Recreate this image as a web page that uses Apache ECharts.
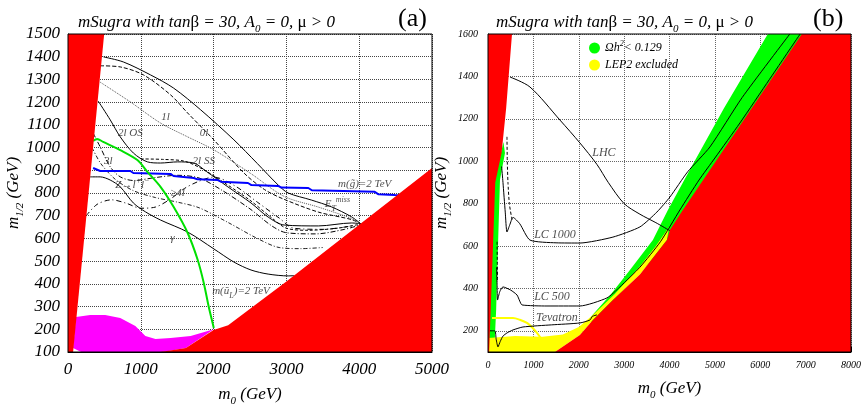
<!DOCTYPE html>
<html><head><meta charset="utf-8">
<script src="https://cdn.jsdelivr.net/npm/echarts@6/dist/echarts.min.js"></script>
<style>html,body{margin:0;padding:0;background:#fff}#c{width:863px;height:410px}</style>
</head><body><div id="c"></div>
<script>
// ---------- Panel (a) data ----------
const aRedLeft = [[0,100],[70,100],[497,1500],[0,1500]];
const aRedRight = [[1270,100],[1620,118],[2000,197],[2200,218],[3000,410],[4000,660],[5000,910],[5000,100]];
const aMagenta = [[69,118],[110,254],[304,263],[511,263],[718,250],[925,214],[1063,170],[1202,157],[1409,162],[1685,170],[2003,200],[1620,118],[1300,100],[180,100]];
const aSquark = [[345,1029],[400,1038],[483,1025],[718,989],[953,945],[1091,893],[1271,827],[1450,739],[1644,624],[1782,505],[1865,404],[1934,298],[2003,206]];
const aGluino = [[345,910],[442,897],[856,897],[898,888],[1409,884],[1450,875],[1727,866],[1780,860],[2058,857],[2100,850],[2472,844],[2520,835],[2887,831],[2930,824],[3301,822],[3350,812],[4213,805],[4260,795],[4489,791],[4600,790]];
const aEtmiss = [[488,1399],[760,1377],[1133,1320],[1450,1262],[1823,1166],[2279,1034],[2600,930],[2887,835],[3025,800],[3343,769],[3619,739],[3895,695],[4020,665]];
const a0l = [[442,1360],[718,1355],[1036,1320],[1409,1232],[1644,1152],[2003,1034],[2417,888],[2700,815],[2970,772],[3439,716],[3895,683],[4020,665]];
const a1l = [[442,1288],[856,1201],[1271,1108],[1644,1047],[2003,990],[2514,885],[2970,785],[3439,738],[3895,688],[4020,665]];
const a2lOS = [[414,1205],[580,1122],[718,1047],[898,976],[1091,937],[1271,932],[1506,937],[1727,932],[1900,895],[2196,827],[2514,756],[2749,694],[2970,659],[3439,655],[3895,668],[4020,665]];
const a2lSS = [[1000,950],[1300,948],[1600,940],[1850,905],[2100,855],[2500,768],[2800,690],[3000,645],[3300,636],[3700,645],[4000,662]];
const a3l = [[345,1064],[442,1003],[580,915],[718,871],[900,855],[1200,868],[1500,878],[1800,866],[2100,815],[2500,730],[2800,655],[3000,625],[3400,620],[3800,640],[4000,658]];
const aZll = [[330,1000],[450,930],[650,860],[900,810],[1200,780],[1500,760],[1800,735],[2200,670],[2600,600],[2900,560],[3200,555],[3500,560]];
const a4l = [[250,700],[400,750],[600,770],[800,755],[1000,733],[1200,738],[1400,772],[1600,820],[1800,852],[2000,870],[2300,830],[2600,760],[2900,690],[3100,645],[3500,640],[3900,655]];
const aGamma = [[304,871],[442,871],[580,857],[718,827],[898,756],[1064,717],[1271,681],[1644,628],[2003,554],[2279,496],[2514,461],[2749,443],[3025,435],[3110,436]];
const aLabels = [
  [1340,1135,'1l'],[1870,1065,'0l'],[856,1064,'2l OS'],[552,940,'3l'],[1865,940,'2l SS'],
  [884,835,'Z→l{p|+}l{p|−}'],[1505,800,'≥4l'],[4075,838,'m(g\u0303)=2 TeV'],[3700,752,'E{b|T}{p|miss}'],
  [1436,602,'γ'],[2376,369,'m(ũ{b|L})=2 TeV']
];

// ---------- Panel (b) data ----------
const bYTicks = [200,400,600,800,1000,1200,1400,1600];
const bRedLeft = [[0,100],[25,100],[60,300],[110,600],[160,900],[300,1040],[400,1250],[529,1600],[0,1600]];
const bRedRight = [[1476,100],[2026,180],[2313,251],[2753,345],[3348,465],[3943,628],[4009,676],[4295,770],[6916,1600],[8000,1600],[8000,100]];
const bGreenBand = [[2200,250],[2700,370],[3128,487],[3634,628],[3965,770],[4500,980],[5200,1250],[6167,1600],[7000,1600],[4100,640],[2300,240]];
const bGreenLeft = [[0,160],[150,160],[180,300],[220,600],[264,911],[374,1039],[340,1090],[150,911],[60,600],[20,300],[0,200]];
const bYellow = [[0,100],[0,166],[600,175],[1200,172],[1650,182],[2000,218],[2300,272],[2800,375],[3350,505],[3700,600],[3990,690],[3943,628],[3348,465],[2753,345],[2313,251],[2026,180],[1476,100]];
const bYellowArc = [[88,260],[551,260],[700,252],[859,237],[1000,210],[1079,190],[1190,157]];
const bLHC = [[485,1397],[925,1350],[1586,1194],[2026,1086],[2400,985],[2650,900],[3000,800],[3348,750],[3700,710],[4009,672]];
const bLC1000 = [[300,975],[330,900],[380,760],[418,666],[480,700],[551,735],[700,705],[925,628],[1500,615],[2026,614],[2753,642],[3348,690],[3722,760],[4009,831],[4400,950],[4890,1067],[5600,1300],[6652,1600]];
const bLC1000d = [[418,1115],[425,1000],[440,900],[470,800],[529,723]];
const bLC500 = [[190,500],[200,420],[210,345],[260,385],[330,407],[500,392],[639,369],[700,340],[749,322],[1300,317],[2026,317],[2621,355],[2907,407],[3348,500],[3800,620],[4229,770],[4650,911],[5000,1015],[5551,1180],[6200,1385],[6800,1575],[6880,1600]];
const bLC500d = [[200,620],[205,520],[210,430]];
const bTev = [[0,200],[150,200],[180,160],[220,124],[270,150],[330,175],[420,190],[551,204],[771,218],[1400,228],[2026,237],[2247,251],[2300,268],[2401,275]];
const bLabels = [[2555,1039,'LHC'],[1476,652,'LC 1000'],[1410,360,'LC 500'],[1520,260,'Tevatron']];
const legendNames = ['Ωh² < 0.129','LEP2 excluded'];

const SERIF = "'Liberation Serif','DejaVu Serif',serif";
const titleRich = {
  i:{fontFamily:SERIF,fontStyle:'italic',fontWeight:'normal',fontSize:17,color:'#000'},
  u:{fontFamily:SERIF,fontWeight:'normal',fontSize:17,color:'#000'},
  s:{fontFamily:SERIF,fontStyle:'italic',fontWeight:'normal',fontSize:11,color:'#000',verticalAlign:'bottom',lineHeight:24}
};
const nameRich = {
  i:{fontFamily:SERIF,fontStyle:'italic',fontSize:17,color:'#000'},
  s:{fontFamily:SERIF,fontStyle:'italic',fontSize:11,color:'#000',verticalAlign:'bottom',lineHeight:25}
};
const lblRich = {
  p:{fontFamily:SERIF,fontStyle:'italic',fontSize:8,color:'#222',verticalAlign:'top',lineHeight:17},
  b:{fontFamily:SERIF,fontStyle:'italic',fontSize:8,color:'#222',verticalAlign:'bottom',lineHeight:17}
};
const plain = v => String(v);

function poly(name, pts, color, gi, z){
  return {type:'custom', name, xAxisIndex:gi, yAxisIndex:gi, data:pts, z:z, silent:true,
    itemStyle:{color}, encode:{x:0,y:1},
    renderItem:(params, api)=>{
      if(params.dataIndex!==0) return null;
      return {type:'polygon', shape:{points: pts.map(p=>api.coord(p))}, style:{fill:color, stroke:null}};
    }};
}
function ln(pts, gi, type, color, width, smooth){
  return {type:'line', xAxisIndex:gi, yAxisIndex:gi, data:pts, showSymbol:false, symbol:'none',
    smooth: smooth, lineStyle:{color, width, type}, silent:true, z:3, animation:false};
}
function lbls(arr, gi, size){
  return {type:'scatter', xAxisIndex:gi, yAxisIndex:gi, data:arr, symbolSize:0, silent:true, z:6,
    label:{show:true, position:'inside', formatter:p=>p.data[2], color:'#222', fontFamily:SERIF,
      fontStyle:'italic', fontSize:size, rich:lblRich}};
}

const black = '#000';
const titleText = '{i|mSugra with tan}{u|β}{i| = 30, A}{s|0}{i| = 0, }{u|μ}{i| > 0}';
const option = {
  animation:false,
  backgroundColor:'#fff',
  title:[
    {text:titleText, left:73, top:6, textStyle:{fontWeight:'normal',rich:titleRich}},
    {text:'(a)', left:393, top:1, textStyle:{fontFamily:SERIF,fontSize:26,fontWeight:'normal',color:'#000'}},
    {text:titleText, left:491, top:6, textStyle:{fontWeight:'normal',rich:titleRich}},
    {text:'(b)', left:808, top:1, textStyle:{fontFamily:SERIF,fontSize:26,fontWeight:'normal',color:'#000'}}
  ],
  legend:{data:legendNames, left:584, top:35, orient:'vertical', icon:'circle', itemWidth:11, itemHeight:11, itemGap:5,
    formatter:n=> n===legendNames[0] ? '{t|Ωh}{p|2}{t|< 0.129}' : '{t|LEP2 excluded}',
    textStyle:{rich:{t:{fontFamily:SERIF,fontStyle:'italic',fontSize:12,color:'#000'},
      p:{fontFamily:SERIF,fontStyle:'italic',fontSize:8,color:'#000',verticalAlign:'top',lineHeight:16}}}},
  grid:[
    {left:68, top:34, width:364, height:318, show:true, borderColor:'#000', borderWidth:1, backgroundColor:'transparent', z:10, outerBoundsMode:'none', containLabel:false},
    {left:488, top:34, width:363, height:318, show:true, borderColor:'#000', borderWidth:1, backgroundColor:'transparent', z:10, outerBoundsMode:'none', containLabel:false}
  ],
  xAxis:[
    {gridIndex:0, type:'value', min:0, max:5000, interval:1000,
     axisLine:{show:true,lineStyle:{color:black}}, axisTick:{show:false},
     axisLabel:{fontFamily:SERIF,fontStyle:'italic',fontSize:17,color:'#000',margin:9,formatter:plain},
     splitLine:{show:true,lineStyle:{type:'dotted',color:'#444',width:1}},
     name:'{i|m}{s|0}{i| (GeV)}', nameLocation:'middle', nameGap:30, nameMoveOverlap:false, nameTextStyle:{rich:nameRich}},
    {gridIndex:1, type:'value', min:0, max:8000, interval:1000,
     axisLine:{show:true,lineStyle:{color:black}}, axisTick:{show:true,inside:true,length:5,lineStyle:{color:black}},
     axisLabel:{fontFamily:SERIF,fontStyle:'italic',fontSize:10,color:'#000',margin:8,formatter:plain},
     splitLine:{show:true,lineStyle:{type:'dotted',color:'#666',width:1}},
     name:'{i|m}{s|0}{i| (GeV)}', nameLocation:'middle', nameGap:24, nameMoveOverlap:false, nameTextStyle:{rich:nameRich}}
  ],
  yAxis:[
    {gridIndex:0, type:'value', min:100, max:1500, interval:100,
     axisLine:{show:true,lineStyle:{color:black}}, axisTick:{show:false},
     axisLabel:{fontFamily:SERIF,fontStyle:'italic',fontSize:17,color:'#000',margin:8,formatter:plain},
     splitLine:{show:true,lineStyle:{type:'dotted',color:'#444',width:1}},
     name:'{i|m}{s|1/2}{i| (GeV)}', nameLocation:'middle', nameRotate:90, nameGap:42, nameMoveOverlap:false, nameTextStyle:{rich:nameRich}},
    {gridIndex:1, type:'value', min:100, max:1600, interval:100,
     axisLine:{show:true,lineStyle:{color:black}},
     axisTick:{show:true,inside:true,length:5,customValues:bYTicks,lineStyle:{color:black}},
     axisLabel:{fontFamily:SERIF,fontStyle:'italic',fontSize:10,color:'#000',margin:10,customValues:bYTicks,formatter:plain},
     splitLine:{show:true,lineStyle:{type:'dotted',color:'#666',width:1}},
     name:'{i|m}{s|1/2}{i| (GeV)}', nameLocation:'middle', nameRotate:90, nameGap:34, nameMoveOverlap:false, nameTextStyle:{rich:nameRich}}
  ],
  series:[
    // panel (a)
    poly('magenta', aMagenta, '#ff00ff', 0, 1),
    ln(aGamma,0,'solid',black,1,0.3),
    ln(aEtmiss,0,'solid',black,1,0.3),
    ln(a0l,0,[4,2],black,1,0.3),
    ln(a1l,0,'dotted','#555',1,0.3),
    ln(a2lOS,0,'solid',black,1,0.3),
    ln(a2lSS,0,[3,2],black,1,0.3),
    ln(a3l,0,[5,2,1,2],black,1,0.3),
    ln(aZll,0,[4,2,1,2],'#222',1,0.3),
    ln(a4l,0,[5,3,1,3],black,1,0.3),
    ln(aGluino,0,'solid','#0000ff',2,false),
    ln(aSquark,0,'solid','#00e000',2,0.3),
    poly('redA1', aRedLeft, '#ff0000', 0, 4),
    poly('redA2', aRedRight, '#ff0000', 0, 4),
    lbls(aLabels,0,11),
    // panel (b)
    poly(legendNames[0], bGreenBand, '#00ff00', 1, 1),
    poly(legendNames[0], bGreenLeft, '#00ff00', 1, 1),
    poly(legendNames[1], bYellow, '#ffff00', 1, 1),
    ln(bYellowArc,1,'solid','#ffff00',2,0.3),
    ln(bLHC,1,'solid',black,1,0.3),
    ln(bLC1000,1,'solid',black,1,0.2),
    ln(bLC1000d,1,[3,2],black,1,0.2),
    ln(bLC500,1,'solid',black,1,0.2),
    ln(bLC500d,1,[3,2],black,1,0.2),
    ln(bTev,1,'solid',black,1,0.2),
    poly('redB1', bRedLeft, '#ff0000', 1, 4),
    poly('redB2', bRedRight, '#ff0000', 1, 4),
    lbls(bLabels,1,12)
  ]
};
const chart = echarts.init(document.getElementById('c'));
chart.setOption(option);
</script></body></html>
